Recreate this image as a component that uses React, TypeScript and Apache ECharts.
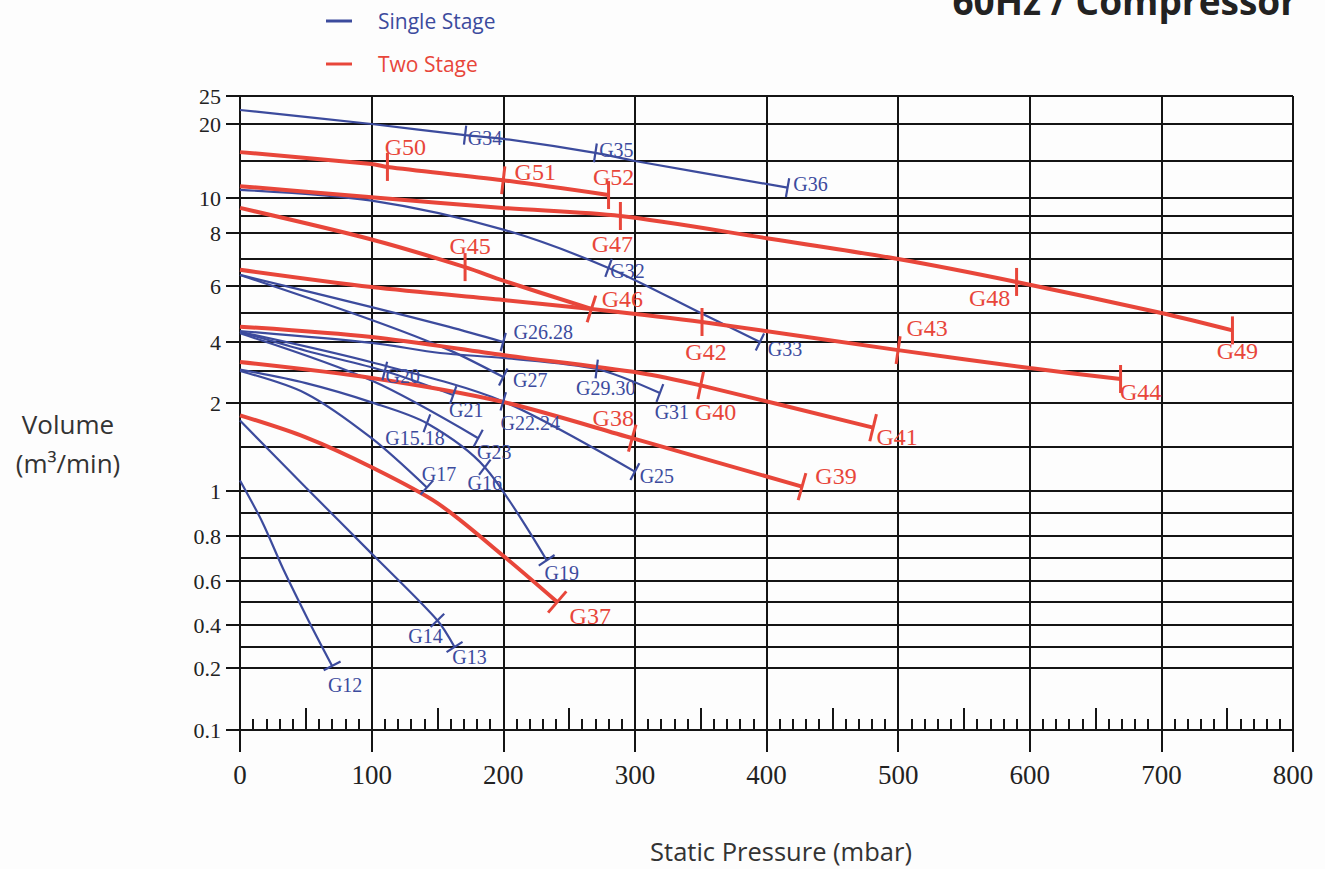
import React, { useEffect, useRef } from 'react';
import * as echarts from 'echarts';

const BLUE = '#3c4b9d';
const RED = '#e8463a';
const INK = '#141414';
const SERIF = '"Liberation Serif", "DejaVu Serif", serif';
const SANS = '"Open Sans", "Noto Sans", sans-serif';

// ---- custom volume scale (hand-drawn chart): value -> scale units ----
const SCALE_VOL = [0.1, 0.2, 0.3, 0.4, 0.5, 0.6, 0.7, 0.8, 0.9, 1, 1.5, 2, 3, 4, 5, 6, 7, 8, 9, 10, 15, 20, 25];
const SCALE_POS = [0, 62, 83, 105, 128, 149, 172, 194, 217, 239, 283, 327, 359, 388, 417, 444, 471, 497, 514, 532, 569, 606, 634];
const Y_LABEL_VOL = [0.1, 0.2, 0.4, 0.6, 0.8, 1, 2, 4, 6, 8, 10, 20, 25];
const Y_LABEL_TEXT = ['0.1', '0.2', '0.4', '0.6', '0.8', '1', '2', '4', '6', '8', '10', '20', '25'];

function volToPos(v: number): number {
  if (v <= SCALE_VOL[0]) return SCALE_POS[0];
  for (let i = 1; i < SCALE_VOL.length; i++) {
    if (v <= SCALE_VOL[i]) {
      const t = (v - SCALE_VOL[i - 1]) / (SCALE_VOL[i] - SCALE_VOL[i - 1]);
      return SCALE_POS[i - 1] + t * (SCALE_POS[i] - SCALE_POS[i - 1]);
    }
  }
  return SCALE_POS[SCALE_POS.length - 1];
}

// ---- single stage curves (pressure mbar, volume m3/min) ----
const g12Pressure = [0, 17, 33, 52, 70];
const g12Volume = [1.12, 0.86, 0.65, 0.42, 0.21];
const g13Pressure = [0, 50, 100, 150, 163];
const g13Volume = [1.8, 1.04, 0.72, 0.42, 0.3];
const g15Pressure = [0, 50, 100, 142, 186, 233];
const g15Volume = [3.05, 2.62, 2.02, 1.77, 1.27, 0.69];
const g17Pressure = [0, 50, 100, 142];
const g17Volume = [3.0, 2.3, 1.6, 1.04];
const g20Pressure = [0, 50, 110, 162];
const g20Volume = [4.35, 3.7, 3.0, 2.25];
const g22Pressure = [0, 100, 200, 300];
const g22Volume = [4.35, 3.3, 2.05, 1.22];
const g23Pressure = [0, 100, 181];
const g23Volume = [4.3, 2.7, 1.6];
const g26Pressure = [0, 100, 159, 200];
const g26Volume = [6.41, 5.22, 4.52, 4.0];
const g27Pressure = [0, 100, 159, 200];
const g27Volume = [6.41, 4.76, 3.72, 2.81];
const g29Pressure = [0, 100, 152, 200, 271, 319];
const g29Volume = [4.38, 3.97, 3.62, 3.45, 3.07, 2.31];
const g32Pressure = [0, 100, 200, 280, 350, 395];
const g32Volume = [11.1, 9.85, 8.2, 6.67, 5.0, 4.0];
const g34Pressure = [0, 100, 171, 200, 270, 300, 416];
const g34Volume = [22.5, 20, 18.5, 18.0, 16.1, 15.0, 11.4];

// ---- two stage curves ----
const g37Pressure = [0, 50, 100, 150, 200, 241];
const g37Volume = [1.86, 1.61, 1.27, 0.945, 0.71, 0.5];
const g38Pressure = [0, 100, 200, 298, 427];
const g38Volume = [3.31, 2.78, 2.03, 1.6, 1.05];
const g40Pressure = [0, 100, 200, 304, 350, 481];
const g40Volume = [4.53, 4.17, 3.55, 2.94, 2.55, 1.72];
const g42Pressure = [0, 100, 200, 267, 351, 500, 600, 669];
const g42Volume = [6.6, 5.96, 5.48, 5.15, 4.69, 3.72, 3.1, 2.75];
const g45Pressure = [0, 100, 171, 200, 267];
const g45Volume = [9.45, 7.75, 6.7, 6.2, 5.15];
const g47Pressure = [0, 100, 200, 289, 400, 500, 590, 700, 754];
const g47Volume = [11.6, 10.1, 9.45, 9.0, 7.8, 7.0, 6.15, 5.0, 4.4];
const g50Pressure = [0, 100, 112, 200, 280];
const g50Volume = [16.2, 14.6, 14.2, 12.4, 10.4];

type Curve = { stage: 1 | 2; p: number[]; v: number[] };
const CURVES: Record<string, Curve> = {
  g12: { stage: 1, p: g12Pressure, v: g12Volume },
  g13: { stage: 1, p: g13Pressure, v: g13Volume },
  g15: { stage: 1, p: g15Pressure, v: g15Volume },
  g17: { stage: 1, p: g17Pressure, v: g17Volume },
  g20: { stage: 1, p: g20Pressure, v: g20Volume },
  g22: { stage: 1, p: g22Pressure, v: g22Volume },
  g23: { stage: 1, p: g23Pressure, v: g23Volume },
  g26: { stage: 1, p: g26Pressure, v: g26Volume },
  g27: { stage: 1, p: g27Pressure, v: g27Volume },
  g29: { stage: 1, p: g29Pressure, v: g29Volume },
  g32: { stage: 1, p: g32Pressure, v: g32Volume },
  g34: { stage: 1, p: g34Pressure, v: g34Volume },
  g37: { stage: 2, p: g37Pressure, v: g37Volume },
  g38: { stage: 2, p: g38Pressure, v: g38Volume },
  g40: { stage: 2, p: g40Pressure, v: g40Volume },
  g42: { stage: 2, p: g42Pressure, v: g42Volume },
  g45: { stage: 2, p: g45Pressure, v: g45Volume },
  g47: { stage: 2, p: g47Pressure, v: g47Volume },
  g50: { stage: 2, p: g50Pressure, v: g50Volume },
};

// ---- model marks: name, curve, max pressure ----
const modelNames = ['G12', 'G14', 'G13', 'G15.18', 'G16', 'G19', 'G17', 'G20', 'G21', 'G22.24', 'G25', 'G23', 'G26.28', 'G27', 'G29.30', 'G31', 'G32', 'G33', 'G34', 'G35', 'G36', 'G37', 'G38', 'G39', 'G40', 'G41', 'G42', 'G43', 'G44', 'G45', 'G46', 'G47', 'G48', 'G49', 'G50', 'G51', 'G52'];
const modelCurve = ['g12', 'g13', 'g13', 'g15', 'g15', 'g15', 'g17', 'g20', 'g20', 'g22', 'g22', 'g23', 'g26', 'g27', 'g29', 'g29', 'g32', 'g32', 'g34', 'g34', 'g34', 'g37', 'g38', 'g38', 'g40', 'g40', 'g42', 'g42', 'g42', 'g45', 'g45', 'g47', 'g47', 'g47', 'g50', 'g50', 'g50'];
const modelPressure = [70, 150, 163, 142, 186, 233, 142, 110, 162, 200, 300, 181, 200, 200, 271, 319, 280, 395, 171, 270, 416, 241, 298, 427, 350, 481, 351, 500, 669, 171, 267, 289, 590, 754, 112, 200, 280];

// label placement relative to the tick (style only)
const LABEL_OFFSET: Record<string, [number, number]> = {
  G12: [13, 19], G13: [15, 10], G14: [-12, 16], 'G15.18': [-12, 15], G16: [0, 16], G17: [12, -13],
  G19: [15, 13], G20: [18, 5], G21: [13, 15], 'G22.24': [27, 22], G23: [16, 14], G25: [22, 4],
  'G26.28': [40, -10], G27: [27, 3], 'G29.30': [9, 19], G31: [12, 19], G32: [19, 3], G33: [25, 7],
  G34: [20, 3], G35: [21, -3], G36: [23, -4],
  G37: [33, 14], G38: [-19, -20], G39: [34, -11], G40: [15, 27], G41: [24, 9], G42: [4, 30],
  G43: [29, -22], G44: [20, 13], G45: [5, -21], G46: [31, -10], G47: [-8, 28], G48: [-27, 16],
  G49: [5, 21], G50: [18, -20], G51: [32, -8], G52: [5, -18],
};
const VERTICAL_TICKS = ['G42', 'G44', 'G45', 'G47', 'G48', 'G49', 'G50', 'G52'];

export default function App() {
  const ref = useRef<HTMLDivElement>(null);

  useEffect(() => {
    if (!ref.current) return;
    const chart = echarts.init(ref.current, undefined, { renderer: 'svg' });

    const yLabelPos = Y_LABEL_VOL.map(volToPos);
    const curveKeys = Object.keys(CURVES);

    const curveSeries = curveKeys.map((k) => {
      const c = CURVES[k];
      const color = c.stage === 1 ? BLUE : RED;
      return {
        type: 'line',
        name: c.stage === 1 ? 'Single Stage' : 'Two Stage',
        data: c.p.map((p, i) => [p, volToPos(c.v[i])]),
        showSymbol: false,
        symbol: 'none',
        smooth: 0.3,
        silent: true,
        color,
        lineStyle: { color, width: c.stage === 1 ? 2.2 : 4 },
        z: c.stage === 1 ? 3 : 4,
      };
    });

    const gridSeries = {
      type: 'line',
      name: 'grid',
      data: [] as number[][],
      silent: true,
      markLine: {
        silent: true,
        z: 1,
        symbol: ['none', 'none'],
        label: { show: false },
        lineStyle: { color: INK, width: 2, type: 'solid' },
        emphasis: { disabled: true },
        data: SCALE_VOL.slice(1).map((v) => ({ yAxis: volToPos(v) })),
      },
    };

    const markSeries = {
      type: 'custom',
      silent: true,
      z: 6,
      clip: false,
      data: modelPressure.map((p, i) => [p, i]),
      renderItem: (params: any, api: any) => {
        const i = params.dataIndex;
        const name = modelNames[i];
        const c = CURVES[modelCurve[i]];
        const color = c.stage === 1 ? BLUE : RED;
        const pts = c.p.map((p, k) => api.coord([p, volToPos(c.v[k])]));
        const tx = api.coord([api.value(0), 0])[0];
        let k = 0;
        while (k < pts.length - 2 && pts[k + 1][0] < tx) k++;
        const a = pts[k];
        const b = pts[k + 1];
        const t = (tx - a[0]) / (b[0] - a[0]);
        const ty = a[1] + t * (b[1] - a[1]);
        let nx = 0;
        let ny = 1;
        if (VERTICAL_TICKS.indexOf(name) < 0) {
          const dx = b[0] - a[0];
          const dy = b[1] - a[1];
          const len = Math.hypot(dx, dy) || 1;
          nx = dy / len;
          ny = -dx / len;
        }
        const h = c.stage === 1 ? 9.5 : 14;
        const off = LABEL_OFFSET[name] || [15, 0];
        return {
          type: 'group',
          children: [
            {
              type: 'line',
              shape: { x1: tx - nx * h, y1: ty - ny * h, x2: tx + nx * h, y2: ty + ny * h },
              style: { stroke: color, lineWidth: c.stage === 1 ? 2.2 : 3 },
            },
            {
              type: 'text',
              x: tx + off[0],
              y: ty + off[1],
              style: {
                text: name,
                fill: color,
                fontFamily: SERIF,
                fontSize: c.stage === 1 ? 20 : 24,
                align: 'center',
                verticalAlign: 'middle',
              },
            },
          ],
        };
      },
    };

    const option: any = {
      animation: false,
      backgroundColor: '#fdfdfd',
      grid: { left: 240, right: 32, top: 96, bottom: 139 },
      xAxis: [
        {
          type: 'value', min: 0, max: 800, interval: 100, position: 'bottom',
          axisLine: { show: true, lineStyle: { color: INK, width: 2 } },
          axisTick: { show: true, length: 22, lineStyle: { color: INK, width: 2 } },
          axisLabel: { margin: 31, fontFamily: SERIF, fontSize: 27, color: '#222' },
          splitLine: { show: true, lineStyle: { color: INK, width: 2 } },
        },
        {
          type: 'value', min: 0, max: 800, interval: 10, position: 'bottom',
          axisLine: { show: false },
          axisTick: { show: true, inside: true, length: 11, lineStyle: { color: INK, width: 2 } },
          axisLabel: { show: false },
          splitLine: { show: false },
        },
        {
          type: 'value', min: 0, max: 800, interval: 50, position: 'bottom',
          axisLine: { show: false },
          axisTick: { show: true, inside: true, length: 22, lineStyle: { color: INK, width: 2 } },
          axisLabel: { show: false },
          splitLine: { show: false },
        },
      ],
      yAxis: {
        type: 'value', min: 0, max: 634,
        axisLine: { show: false },
        splitLine: { show: false },
        axisTick: { show: true, length: 14, customValues: yLabelPos, lineStyle: { color: INK, width: 2 } },
        axisLabel: {
          customValues: yLabelPos,
          margin: 19,
          fontFamily: SERIF,
          fontSize: 22,
          color: '#222',
          formatter: (val: number) => {
            const idx = yLabelPos.findIndex((p) => Math.abs(p - val) < 0.5);
            return idx >= 0 ? Y_LABEL_TEXT[idx] : '';
          },
        },
      },
      graphic: [
        {
          type: 'text', right: 28, top: -18,
          style: { text: '60Hz / Compressor', fill: '#222', fontFamily: SANS, fontWeight: 'bold', fontSize: 37 },
        },
        { type: 'line', shape: { x1: 326, y1: 21, x2: 352, y2: 21 }, style: { stroke: BLUE, lineWidth: 3 } },
        { type: 'text', x: 378, y: 21, style: { text: 'Single Stage', fill: BLUE, fontFamily: SANS, fontSize: 21, verticalAlign: 'middle' } },
        { type: 'line', shape: { x1: 326, y1: 64, x2: 352, y2: 64 }, style: { stroke: RED, lineWidth: 3 } },
        { type: 'text', x: 378, y: 64, style: { text: 'Two Stage', fill: RED, fontFamily: SANS, fontSize: 21, verticalAlign: 'middle' } },
        {
          type: 'text', x: 68, y: 443,
          style: { text: 'Volume\n(m³/min)', fill: '#333', fontFamily: SANS, fontSize: 26, lineHeight: 39, align: 'center', verticalAlign: 'middle' },
        },
        {
          type: 'text', x: 781, y: 851,
          style: { text: 'Static Pressure (mbar)', fill: '#333', fontFamily: SANS, fontSize: 25.5, align: 'center', verticalAlign: 'middle' },
        },
      ],
      series: [gridSeries, ...curveSeries, markSeries],
    };

    chart.setOption(option);
    return () => chart.dispose();
  }, []);

  return <div ref={ref} style={{ position: 'fixed', left: 0, top: 0, width: 1325, height: 869 }} />;
}
